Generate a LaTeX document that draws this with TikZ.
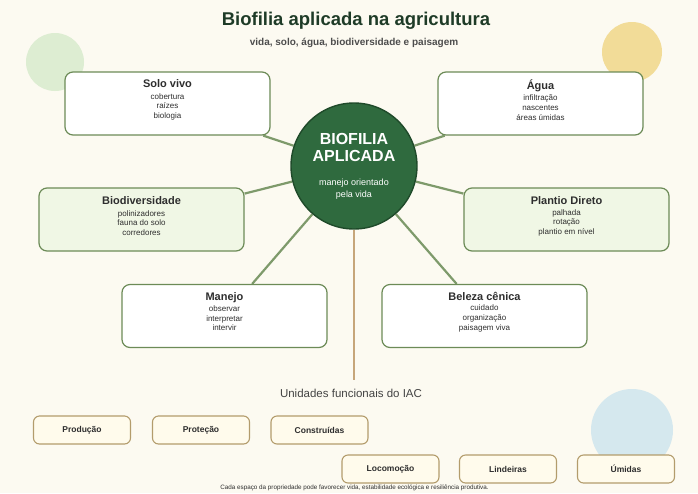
\documentclass[tikz,border=0pt]{standalone}
\usepackage{fontspec}
\setmainfont{Liberation Sans}
\usetikzlibrary{positioning,backgrounds}

\definecolor{bgcream}{HTML}{FCFAF1}
\definecolor{blobgreen}{HTML}{DDEDD2}
\definecolor{blobyellow}{HTML}{F2DC98}
\definecolor{blobblue}{HTML}{D5E8EE}
\definecolor{hubgreen}{HTML}{2F6A3E}
\definecolor{hubdark}{HTML}{1F4A2A}
\definecolor{boxgreen}{HTML}{6C8B57}
\definecolor{leaffill}{HTML}{F0F7E5}
\definecolor{spokegreen}{HTML}{7E9A6B}
\definecolor{stemtan}{HTML}{C6A67A}
\definecolor{unitborder}{HTML}{B39C6C}
\definecolor{unitfill}{HTML}{FFFBEC}
\definecolor{titlegreen}{HTML}{1E3B27}
\definecolor{inkgray}{HTML}{2E2E2E}

\newcommand{\topichead}[1]{{\bfseries\fontsize{11}{13}\selectfont #1}}
\newcommand{\hubhead}[1]{{\bfseries\fontsize{16}{16}\selectfont #1}}

\tikzset{
  topic/.style={draw=boxgreen, line width=1.2pt, rounded corners=8pt, fill=white,
    minimum width=205pt, minimum height=63pt},
  topicleaf/.style={topic, fill=leaffill},
  topictext/.style={align=center, text=inkgray, inner sep=0pt,
    font=\fontsize{8}{9.6}\selectfont},
  spoke/.style={draw=spokegreen, line width=2.2pt},
  unitbox/.style={draw=unitborder, line width=1.1pt, rounded corners=6pt, fill=unitfill,
    minimum width=97pt, minimum height=28pt, text=inkgray,
    font=\bfseries\fontsize{8.5}{10}\selectfont},
}

\begin{document}
\begin{tikzpicture}[x=1pt, y=-1pt]
\useasboundingbox (0,0) rectangle (698,493);

% titles
\node[font=\bfseries\fontsize{18.5}{22}\selectfont, text=titlegreen] (title) at (356,21) {Biofilia aplicada na agricultura};
\node[font=\bfseries\fontsize{10}{12}\selectfont, text=inkgray!85] (subtitle) at (354,43) {vida, solo, água, biodiversidade e paisagem};

% hub
\node[circle, fill=hubgreen, draw=hubdark, line width=1.4pt, minimum size=126pt,
  text=white, align=center, font=\fontsize{9}{12}\selectfont] (hub) at (354,166)
  {\hubhead{BIOFILIA}\\[5pt]\hubhead{APLICADA}\\[12pt]manejo orientado\\pela vida};

% topic boxes
\node[topic] (solo) at (167.5,103.5) {};
\node[topic] (agua) at (540.5,103.5) {};
\node[topicleaf] (biodiv) at (141.5,219.5) {};
\node[topicleaf] (plantio) at (566.5,219.5) {};
\node[topic] (manejo) at (224.5,316) {};
\node[topic] (beleza) at (484.5,316) {};

\node[topictext, below=8pt of solo.north] (solotxt) {\topichead{Solo vivo}\\[2pt]cobertura\\raízes\\biologia};
\node[topictext, below=8pt of agua.north] (aguatxt) {\topichead{Água}\\[2pt]infiltração\\nascentes\\áreas úmidas};
\node[topictext, below=9pt of biodiv.north] (biodivtxt) {\topichead{Biodiversidade}\\[2pt]polinizadores\\fauna do solo\\corredores};
\node[topictext, below=9pt of plantio.north] (plantiotxt) {\topichead{Plantio Direto}\\[1pt]palhada\\rotação\\plantio em nível};
\node[topictext, below=8pt of manejo.north] (manejotxt) {\topichead{Manejo}\\[2pt]observar\\interpretar\\intervir};
\node[topictext, below=8pt of beleza.north] (belezatxt) {\topichead{Beleza cênica}\\[1pt]cuidado\\organização\\paisagem viva};

% functional units
\node[font=\fontsize{11.5}{13}\selectfont, text=inkgray!90] (unid) at (351,393) {Unidades funcionais do IAC};
\node[unitbox] (producao) at (82,430) {Produção};
\node[unitbox] (protecao) at (201,430) {Proteção};
\node[unitbox] (construidas) at (319.5,430) {Construídas};
\node[unitbox] (locomocao) at (390.5,469) {Locomoção};
\node[unitbox] (lindeiras) at (508,469) {Lindeiras};
\node[unitbox] (umidas) at (626,469) {Úmidas};

\node[font=\fontsize{6.3}{7}\selectfont, text=inkgray] (footer) at (354.5,487.5) {Cada espaço da propriedade pode favorecer vida, estabilidade ecológica e resiliência produtiva.};

\begin{pgfonlayer}{background}
  \fill[bgcream] (0,0) rectangle (698,493);
  \fill[blobgreen] (55,62) circle (29);
  \fill[blobyellow] (632,52) circle (30);
  \fill[blobblue] (632,430) circle (41);
  \draw[spoke] (solo) -- (hub);
  \draw[spoke] (agua) -- (hub);
  \draw[spoke] (biodiv) -- (hub);
  \draw[spoke] (plantio) -- (hub);
  \draw[spoke] (manejo) -- (hub);
  \draw[spoke] (beleza) -- (hub);
  \draw[stemtan, line width=1.5pt, shorten >=5pt] (hub) -- (hub |- unid.north);
\end{pgfonlayer}
\end{tikzpicture}
\end{document}
